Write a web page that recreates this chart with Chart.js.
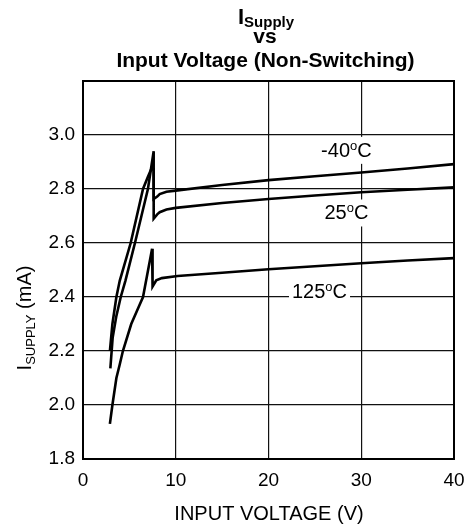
<!DOCTYPE html>
<html>
<head>
<meta charset="utf-8">
<script src="https://cdn.jsdelivr.net/npm/chart.js@4.4.1/dist/chart.umd.min.js"></script>
<style>
  html, body { margin: 0; padding: 0; background: #fff; }
</style>
</head>
<body>
<canvas id="chart" width="469" height="525"></canvas>
<script>
// Supply current vs input voltage
const seriesNames = ['-40', '25', '125'];

const voltsM40 = [2.9, 3.17, 3.6, 3.96, 5.14, 6.47, 7.0, 7.37, 7.62, 7.62, 8.0, 8.27, 9.0, 10, 15, 20, 25, 30, 35, 40];
const ampsM40 = [2.2, 2.3, 2.4, 2.46, 2.6, 2.8, 2.845, 2.875, 2.87, 2.763, 2.772, 2.781, 2.79, 2.794, 2.815, 2.833, 2.847, 2.861, 2.876, 2.892];

const volts25 = [2.95, 3.2, 3.6, 4.07, 4.57, 5.6, 6.3, 7.0, 7.62, 7.62, 8.0, 8.27, 9.0, 10, 15, 20, 25, 30, 35, 40];
const amps25 = [2.136, 2.25, 2.33, 2.4, 2.46, 2.6, 2.7, 2.8, 2.94, 2.69, 2.706, 2.714, 2.724, 2.73, 2.748, 2.763, 2.776, 2.788, 2.797, 2.806];

const volts125 = [2.9, 3.17, 3.6, 3.96, 4.3, 5.2, 6.0, 6.47, 7.45, 7.5, 7.9, 8.5, 10.2, 15, 20, 25, 30, 35, 40];
const amps125 = [1.93, 2.0, 2.1, 2.15, 2.2, 2.3, 2.363, 2.4, 2.579, 2.439, 2.462, 2.47, 2.478, 2.49, 2.503, 2.514, 2.525, 2.535, 2.544];

const xTickValues = [0, 10, 20, 30, 40];
const yTickValues = [1.8, 2.0, 2.2, 2.4, 2.6, 2.8, 3.0, 3.2];

const FONT = '"Liberation Sans", Arial, sans-serif';

function toPoints(xs, ys) {
  return xs.map((x, i) => ({ x: x, y: ys[i] }));
}

function lineSet(label, xs, ys) {
  return {
    label: label,
    data: toPoints(xs, ys),
    showLine: true,
    borderColor: '#000',
    borderWidth: 2.6,
    pointRadius: 0,
    tension: 0,
    fill: false,
  };
}

// draw a row of text pieces (for sub/superscripts)
function drawRuns(ctx, runs, x, y, align) {
  let total = 0;
  runs.forEach((r) => {
    ctx.font = r.font;
    r.w = ctx.measureText(r.text).width;
    total += r.w;
  });
  let cx = align === 'center' ? x - total / 2 : x;
  ctx.textAlign = 'left';
  ctx.textBaseline = 'alphabetic';
  runs.forEach((r) => {
    ctx.font = r.font;
    ctx.fillText(r.text, cx, y + (r.dy || 0));
    cx += r.w;
  });
  return total;
}

function degreeRuns(num) {
  return [
    { text: num, font: '20px ' + FONT },
    { text: 'o', font: '13px ' + FONT, dy: -7 },
    { text: 'C', font: '20px ' + FONT },
  ];
}

const decorations = {
  id: 'decorations',
  afterDatasetsDraw(chart) {
    const ctx = chart.ctx;
    const area = chart.chartArea;
    const xs = chart.scales.x;
    const ys = chart.scales.y;
    ctx.save();
    ctx.fillStyle = '#000';

    // curve labels sit on white boxes that cut the grid
    const labels = [
      { runs: degreeRuns(seriesNames[0]), v: 28.4, i: 2.945 },
      { runs: degreeRuns(seriesNames[1]), v: 28.4, i: 2.713 },
      { runs: degreeRuns(seriesNames[2]), v: 25.5, i: 2.421 },
    ];
    labels.forEach((l) => {
      const px = xs.getPixelForValue(l.v);
      const py = ys.getPixelForValue(l.i);
      let w = 0;
      l.runs.forEach((r) => { ctx.font = r.font; w += ctx.measureText(r.text).width; });
      ctx.fillStyle = '#fff';
      ctx.fillRect(px - w / 2 - 3, py - 13, w + 6, 27);
      ctx.fillStyle = '#000';
      drawRuns(ctx, l.runs, px, py + 7, 'center');
    });

    // frame
    ctx.strokeStyle = '#000';
    ctx.lineWidth = 2;
    ctx.strokeRect(area.left, area.top, area.right - area.left, area.bottom - area.top);

    // title
    drawRuns(ctx, [
      { text: 'I', font: 'bold 22px ' + FONT },
      { text: 'Supply', font: 'bold 15px ' + FONT, dy: 3 },
    ], 266, 24, 'center');
    drawRuns(ctx, [{ text: 'vs', font: 'bold 21px ' + FONT }], 265, 43, 'center');
    drawRuns(ctx, [{ text: 'Input Voltage (Non-Switching)', font: 'bold 21px ' + FONT }], 265.5, 67, 'center');

    // x axis title
    drawRuns(ctx, [{ text: 'INPUT VOLTAGE (V)', font: '20px ' + FONT }], 269, 520, 'center');

    // y axis title, rotated
    ctx.save();
    ctx.translate(31, 318);
    ctx.rotate(-Math.PI / 2);
    drawRuns(ctx, [
      { text: 'I', font: '20px ' + FONT },
      { text: 'SUPPLY', font: '13px ' + FONT, dy: 4 },
      { text: ' (mA)', font: '20px ' + FONT },
    ], 0, 0, 'center');
    ctx.restore();

    ctx.restore();
  },
};

new Chart(document.getElementById('chart'), {
  type: 'scatter',
  data: {
    datasets: [
      lineSet(seriesNames[0], voltsM40, ampsM40),
      lineSet(seriesNames[1], volts25, amps25),
      lineSet(seriesNames[2], volts125, amps125),
    ],
  },
  options: {
    responsive: false,
    animation: false,
    devicePixelRatio: 1,
    layout: {
      padding: { top: 81, right: 15, bottom: 0, left: 0 },
    },
    plugins: {
      legend: { display: false },
      tooltip: { enabled: false },
    },
    scales: {
      x: {
        type: 'linear',
        min: 0,
        max: 40,
        afterBuildTicks: (scale) => {
          scale.ticks = xTickValues.map((v) => ({ value: v }));
        },
        afterFit: (scale) => {
          scale.height = 66;
          scale.paddingLeft = 0;
          scale.paddingRight = 0;
        },
        grid: { color: '#111', lineWidth: 1.2, drawTicks: false },
        border: { display: false },
        ticks: {
          padding: 10,
          color: '#000',
          font: { family: FONT, size: 19 },
          maxRotation: 0,
        },
      },
      y: {
        type: 'linear',
        min: 1.8,
        max: 3.2,
        afterBuildTicks: (scale) => {
          scale.ticks = yTickValues.map((v) => ({ value: v }));
        },
        afterFit: (scale) => { scale.width = 83; },
        grid: { color: '#111', lineWidth: 1.2, drawTicks: false },
        border: { display: false },
        ticks: {
          padding: 8,
          color: '#000',
          font: { family: FONT, size: 19 },
          callback: (v) => (v > 3.05 ? '' : Number(v).toFixed(1)),
        },
      },
    },
  },
  plugins: [decorations],
});
</script>
</body>
</html>
